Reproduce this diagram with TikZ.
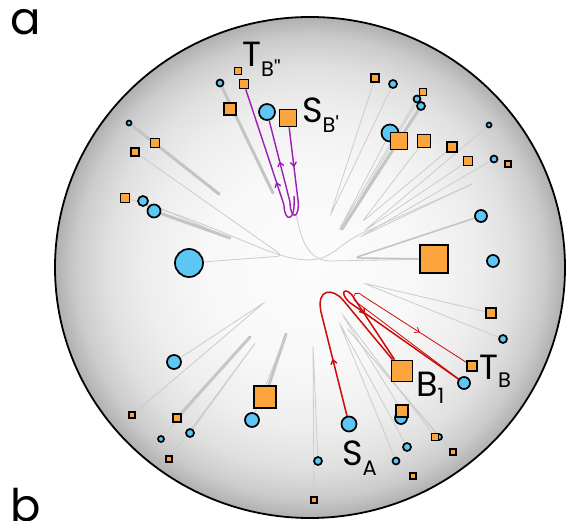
\documentclass[tikz,border=0pt]{standalone}
\usepackage{fontspec}
\newfontfamily\lbl{Poppins}[Ligatures=TeXOff]
\usetikzlibrary{decorations.markings,arrows.meta}
\pgfdeclarelayer{bg}
\pgfsetlayers{bg,main}
\definecolor{orng}{HTML}{FBA53C}
\definecolor{skyb}{HTML}{5CC6F5}
\definecolor{redp}{HTML}{CC0A0A}
\definecolor{purp}{HTML}{9D1CB8}
\definecolor{glin}{HTML}{CCCCCC}
\definecolor{gthk}{HTML}{C4C4C4}
\definecolor{sh0}{HTML}{FCFCFC}
\definecolor{sh1}{HTML}{F8F8F8}
\definecolor{sh2}{HTML}{EEEEEE}
\definecolor{sh3}{HTML}{E0E0E0}
\definecolor{sh4}{HTML}{CBCBCB}
\definecolor{sh5}{HTML}{B0B0B0}
\pgfdeclareradialshading{sphere}{\pgfpoint{0bp}{0bp}}{color(0bp)=(sh0); color(10bp)=(sh1); color(16bp)=(sh2); color(20bp)=(sh3); color(23bp)=(sh4); color(25bp)=(sh5); color(50bp)=(sh5)}
\begin{document}
\begin{tikzpicture}[x=1pt,y=-1pt,
  osq/.style={rectangle,draw=black,line width=1.7pt,fill=orng,inner sep=0pt,minimum size=#1},
  bcirc/.style={circle,draw=black,line width=1.7pt,fill=skyb,inner sep=0pt,minimum size=#1},
  gthin/.style={draw=glin,line width=0.8pt},
  gthick/.style={draw=gthk,line width=3pt,line cap=round},
  gmed/.style={draw=gthk,line width=1.6pt},
  redth/.style={draw=redp,line width=1.5pt},
  redtn/.style={draw=redp,line width=0.8pt},
  purpl/.style={draw=purp,line width=1.4pt},
  arrmid/.style={postaction={decorate},decoration={markings,mark=at position #1 with {\arrow{Straight Barb[length=4pt,width=6pt]}}}},
  bigl/.style={font=\lbl\fontsize{35}{35}\selectfont,inner sep=0pt,anchor=base west},
  panl/.style={font=\lbl\fontsize{45}{45}\selectfont,inner sep=0pt,anchor=base west}]
\useasboundingbox (0,0) rectangle (568,521);
\clip (0,0) rectangle (568,521);
% ---------- markers ----------
\node[osq=7pt] (o1) at (238,71) {};
\node[osq=9pt] (o2) at (244,84) {};
\node[osq=12pt] (o3) at (230,109) {};
\node[osq=17pt] (o4) at (288,118) {};
\node[osq=9pt] (o5) at (155,143) {};
\node[osq=8pt] (o6) at (135,152) {};
\node[osq=9pt] (o7) at (125,198) {};
\node[osq=8pt] (o8) at (375,78) {};
\node[bcirc=7pt] (b8) at (417,99) {};
\node[bcirc=8pt] (b9) at (421,106) {};
\node[osq=7pt] (o9) at (423,92) {};
\node[bcirc=17pt] (b10) at (390,133) {};
\node[osq=17pt] (o10) at (399,141) {};
\node[osq=13pt] (o11) at (424,141) {};
\node[osq=10pt] (o12) at (452,147) {};
\node[osq=9pt] (o13) at (468,161) {};
\node[osq=6pt] (o14) at (508,164) {};
\node[osq=28pt] (o15) at (434,259) {};
\node[osq=10pt] (o16) at (491,313) {};
\node[osq=10pt] (o17) at (472,366) {};
\node[osq=21pt] (o18) at (402,371) {};
\node[bcirc=12pt] (b18) at (401,418) {};
\node[osq=12pt] (o19) at (402,411) {};
\node[bcirc=6pt] (b19) at (439,437) {};
\node[osq=7pt] (o20) at (435,437) {};
\node[osq=6pt] (o21) at (453,452) {};
\node[osq=6pt] (o22) at (413,476) {};
\node[osq=6pt] (o23) at (314,500) {};
\node[osq=22pt] (o24) at (265,397) {};
\node[osq=8pt] (o25) at (177,418) {};
\node[osq=6pt] (o26) at (132,415) {};
\node[osq=6pt] (o27) at (169,459) {};
\node[bcirc=7pt] (b1) at (220,83) {};
\node[bcirc=16pt] (b2) at (267,112) {};
\node[bcirc=5pt] (b3) at (129,123) {};
\node[bcirc=10pt] (b4) at (143,201) {};
\node[bcirc=13pt] (b5) at (154,211) {};
\node[bcirc=28pt] (b6) at (189,263) {};
\node[bcirc=8pt] (b7) at (393,84) {};
\node[bcirc=5pt] (b11) at (489,125) {};
\node[bcirc=7pt] (b12) at (494,159) {};
\node[bcirc=12pt] (b13) at (481,216) {};
\node[bcirc=12pt] (b14) at (493,261) {};
\node[bcirc=8pt] (b15) at (503,339) {};
\node[bcirc=12pt] (b16) at (464,383) {};
\node[bcirc=15pt] (b17) at (349,424) {};
\node[bcirc=8pt] (b20) at (407,447) {};
\node[bcirc=7pt] (b21) at (396,461) {};
\node[bcirc=8pt] (b22) at (318,461) {};
\node[bcirc=14pt] (b23) at (174,362) {};
\node[bcirc=14pt] (b24) at (252,420) {};
\node[bcirc=8pt] (b25) at (190,433) {};
\node[bcirc=6pt] (b26) at (161,439) {};
% ---------- labels ----------
\node[panl] (la) at (10,35) {a};
\node[panl] (lb) at (10,521) {b};
\node[bigl] (lTBB) at (242,67) {T\raisebox{-10pt}{\fontsize{21}{21}\selectfont B''}};
\node[bigl] (lSB) at (302,123) {S\raisebox{-10pt}{\fontsize{21}{21}\selectfont B'}};
\node[bigl] (lB1) at (416,397) {B\raisebox{-7pt}{\fontsize{21}{21}\selectfont 1}};
\node[bigl] (lTB) at (479,380) {T\raisebox{-8pt}{\fontsize{21}{21}\selectfont B}};
\node[bigl] (lSA) at (342,465) {S\raisebox{-10pt}{\fontsize{21}{21}\selectfont A}};
% ---------- tips ----------
\coordinate (t1) at (273,193);
\coordinate (t2) at (219,194);
\coordinate (t3) at (283,256);
\coordinate (t4) at (230,238);
\coordinate (t5) at (354,258);
\coordinate (t6) at (330,216);
\coordinate (t7) at (342,229);
\coordinate (t7b) at (346,223);
\coordinate (t7c) at (338,232);
\coordinate (t8) at (362,222);
\coordinate (t9) at (364,231);
\coordinate (t10) at (360,237);
\coordinate (e1) at (472,184);
\coordinate (t11) at (363,283);
\coordinate (t12) at (339,322);
\coordinate (t13) at (342,314);
\coordinate (t14) at (346,327);
\coordinate (t15) at (313,345);
\coordinate (t16) at (265,302);
\coordinate (t17) at (250,337);
\coordinate (t18) at (256,342);
\coordinate (t19) at (286,334);
\coordinate (pbot) at (296,214);
\coordinate (p1a) at (298,200);
\coordinate (p1b) at (290,202);
\coordinate (p2a) at (294,196);
\coordinate (p2b) at (284,205);
\coordinate (r1) at (321,312);
\coordinate (r2) at (349,302);
\coordinate (r3) at (355,301);
\begin{pgfonlayer}{bg}
\shade[shading=sphere] (310,267.5) ellipse [x radius=255,y radius=250.5];
% gray trajectories
\draw[gthick] (b1) -- (t1);
\draw[gthick] (b3) -- (t2);
\draw[gthin,rounded corners=6pt] (o6) -- (t3) -- (b6);
\draw[gthin] (o7) .. controls (240,232) and (280,266) .. (318,259) .. controls (335,255) and (345,240) .. (365,232) -- (e1);
\draw[gthick] (b5) -- (t4);
\draw[gthin] (b4) -- (t4);
\draw[gthin,rounded corners=4pt] (o8) -- (t6) -- (b7);
\draw[gthick] (b9) -- (t7);
\draw[gthin,rounded corners=3pt] (o9) -- (t7) -- (o10);
\draw[gmed] (o10) -- (t7b);
\draw[gthin,rounded corners=4pt] (b8) -- (t7c) -- (b10);
\draw[gthin,rounded corners=4pt] (o11) -- (t8) -- (o12);
\draw[gthin,rounded corners=4pt] (b11) -- (t9) -- (o13);
\draw[gthin,rounded corners=4pt] (b12) -- (t10) -- (e1);
\draw[gthin] (pbot) .. controls (302,245) and (310,260) .. (330,261) -- (o15);
\draw[gmed,rounded corners=6pt] (b13) -- (t5) -- (o15);
\draw[gthin,rounded corners=4pt] (o16) -- (t11) -- (b15);
\draw[gthin,rounded corners=4pt] (b21) -- (t12) -- (b20);
\draw[gthin,rounded corners=4pt] (o19) -- (t13) -- (o20);
\draw[gthin,rounded corners=4pt] (b19) -- (t14) -- (o21);
\draw[gthin,rounded corners=3pt] (o23) -- (t15) -- (b22);
\draw[gthin,rounded corners=4pt] (b23) -- (t16) -- (o26);
\draw[gthick] (o25) -- (t17);
\draw[gthin] (b26) -- (t17);
\draw[gthin,rounded corners=3pt] (b25) -- (t18) -- (o27);
\draw[gthick] (o24) -- (t19);
\draw[gthin] (b24) -- (t19);
% purple
\draw[purpl,arrmid=0.55] (o4) -- (p1a);
\draw[purpl] (p1a) .. controls (300,220) and (290,220) .. (p1b);
\draw[purpl,arrmid=0.5] (p1b) -- (b2);
\draw[purpl] (p2a) .. controls (296,224) and (284,222) .. (p2b);
\draw[purpl,arrmid=0.2] (p2b) -- (o2);
% red
\draw[redth,arrmid=0.55] (b17) -- (r1);
\draw[redth] (r1) .. controls (316,288) and (333,288) .. (343,300) -- (o18);
\draw[redth] (b16) -- (r2);
\draw[redth,arrmid=0.45] (r2) .. controls (339,292) and (345,287) .. (352,295) -- (o18);
\draw[redtn] (b16) -- (r3);
\draw[redtn] (r3) .. controls (351,294) and (357,290) .. (363,296);
\draw[redtn,arrmid=0.55] (363,296) -- (o17);
\draw[line width=1.8pt] (310,267.5) ellipse [x radius=255,y radius=250.5];
\end{pgfonlayer}
\end{tikzpicture}
\end{document}
